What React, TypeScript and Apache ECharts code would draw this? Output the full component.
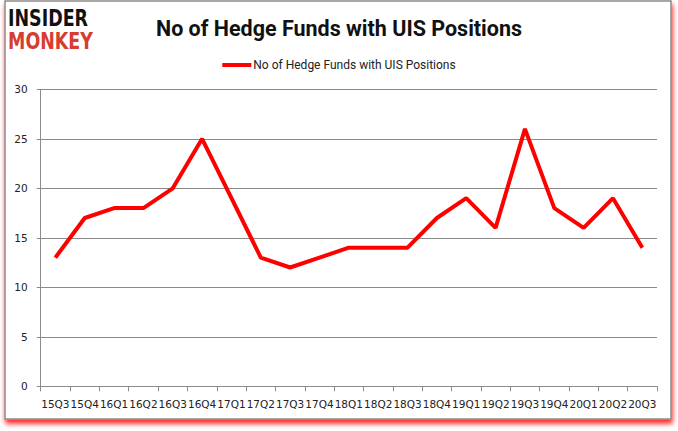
import React, { useEffect, useRef } from "react";
import * as echarts from "echarts";

const categories = ["15Q3","15Q4","16Q1","16Q2","16Q3","16Q4","17Q1","17Q2","17Q3","17Q4","18Q1","18Q2","18Q3","18Q4","19Q1","19Q2","19Q3","19Q4","20Q1","20Q2","20Q3"];
const hedgeFunds = [13,17,18,18,20,25,19,13,12,13,14,14,14,17,19,16,26,18,16,19,14];
const seriesName = "No of Hedge Funds with UIS Positions";
const titleText = "No of Hedge Funds with UIS Positions";

export default function App() {
  const ref = useRef<HTMLDivElement>(null);
  useEffect(() => {
    document.body.style.margin = "0";
    const chart = echarts.init(ref.current!, null, { renderer: "svg" });
    chart.setOption({
      animation: false,
      backgroundColor: "#ffffff",
      graphic: [
        {
          type: "rect",
          z: -10,
          shape: { x: 5, y: 1, width: 666, height: 418 },
          style: {
            fill: "#ffffff",
            stroke: "#8a8a8a",
            lineWidth: 1.5,
            shadowColor: "rgba(255,0,0,0.85)",
            shadowBlur: 5,
            shadowOffsetX: 1,
            shadowOffsetY: 4,
          },
        },
        {
          type: "text",
          x: 8,
          y: 7,
          scaleX: 0.76,
          style: { text: "INSIDER", fill: "#111111", font: "bold 23px 'DejaVu Sans'" },
        },
        {
          type: "text",
          x: 8,
          y: 30,
          scaleX: 0.76,
          style: { text: "MONKEY", fill: "#d63c2f", font: "bold 23px 'DejaVu Sans'" },
        },
      ],
      title: {
        text: titleText,
        left: "center",
        top: 12,
        textStyle: { fontFamily: "Roboto", fontSize: 21.5, fontWeight: "bold", color: "#111111" },
      },
      legend: {
        top: 54,
        left: "center",
        itemWidth: 29,
        itemHeight: 4,
        itemGap: 4,
        icon: "rect",
        textStyle: { fontFamily: "Roboto", fontSize: 12, color: "#222222", padding: [0, 0, 0, -3] },
        data: [seriesName],
      },
      grid: { left: 40.7, right: 21, top: 89.3, bottom: 44.7 },
      xAxis: {
        type: "category",
        data: categories,
        boundaryGap: true,
        axisLine: { lineStyle: { color: "#8a8a8a", width: 1 } },
        axisTick: { show: true, length: 5, lineStyle: { color: "#8a8a8a" } },
        axisLabel: { interval: 0, fontFamily: "DejaVu Sans", fontSize: 10.5, color: "#222222", margin: 12 },
      },
      yAxis: {
        type: "value",
        min: 0,
        max: 30,
        interval: 5,
        axisLine: { show: true, lineStyle: { color: "#8a8a8a", width: 1 } },
        axisTick: { show: true, length: 4, lineStyle: { color: "#8a8a8a" } },
        splitLine: { lineStyle: { color: "#8a8a8a", width: 1 } },
        axisLabel: { fontFamily: "DejaVu Sans", fontSize: 10.5, color: "#222222", margin: 13 },
      },
      series: [
        {
          name: seriesName,
          type: "line",
          data: hedgeFunds,
          symbol: "none",
          lineStyle: { color: "#ff0000", width: 4 },
          itemStyle: { color: "#ff0000" },
        },
      ],
    });
    return () => chart.dispose();
  }, []);
  return <div ref={ref} style={{ position: "absolute", left: 0, top: 0, width: 678, height: 431 }} />;
}
